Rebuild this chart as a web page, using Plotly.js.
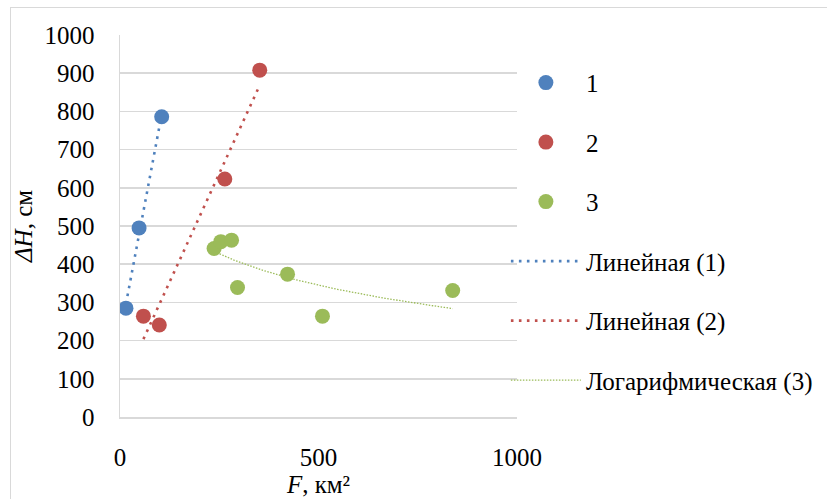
<!DOCTYPE html>
<html>
<head>
<meta charset="utf-8">
<script src="https://cdn.plot.ly/plotly-3.0.1.min.js"></script>
<style>
  html, body { margin: 0; padding: 0; background: #ffffff; }
  #frame { position: absolute; left: 10px; top: 7px; width: 840px; height: 520px;
           border: 1.5px solid #d9d9d9; box-sizing: border-box; pointer-events: none; }
  #chart { position: absolute; left: 0; top: 0; width: 827px; height: 499px; }
  #chart svg text { font-family: "Liberation Serif", "Times New Roman", serif !important; }
</style>
</head>
<body>
<div id="frame"></div>
<div id="chart"></div>
<script>
// Catchment area F (km²) vs. level amplitude ΔH (cm), three groups
const area1 = [15, 48, 105];
const dH1   = [285, 495, 786];
const area2 = [59, 99, 264, 352];
const dH2   = [264, 241, 623, 908];
const area3 = [237, 254, 281, 296, 422, 510, 838];
const dH3   = [441, 459, 463, 339, 374, 264, 331];

const seriesNames = ['1', '2', '3'];
const trendNames = ['Линейная (1)', 'Линейная (2)', 'Логарифмическая (3)'];
const colors = ['#4f81bd', '#c0504d', '#9bbb59'];

// least-squares fit y = a + b * t, where t = f(x)
function fit(xs, ys, f) {
  const t = xs.map(f);
  const n = t.length;
  const mt = t.reduce((s, v) => s + v, 0) / n;
  const my = ys.reduce((s, v) => s + v, 0) / n;
  let sxx = 0, sxy = 0;
  for (let i = 0; i < n; i++) { sxx += (t[i] - mt) ** 2; sxy += (t[i] - mt) * (ys[i] - my); }
  const b = sxy / sxx;
  return { a: my - b * mt, b: b };
}

function trendLine(xs, ys, f, steps) {
  const c = fit(xs, ys, f);
  const lo = Math.min(...xs), hi = Math.max(...xs);
  const tx = [], ty = [];
  for (let i = 0; i <= steps; i++) {
    const x = lo + (hi - lo) * i / steps;
    tx.push(x); ty.push(c.a + c.b * f(x));
  }
  return { x: tx, y: ty };
}

const lin = x => x;
const t1 = trendLine(area1, dH1, lin, 1);
const t2 = trendLine(area2, dH2, lin, 1);
const t3 = trendLine(area3, dH3, Math.log, 60);

const traces = [
  { x: t1.x, y: t1.y, mode: 'lines', name: trendNames[0], legendrank: 4, legendgroup: 'd',
    line: { color: colors[0], width: 2.6, dash: '2.6px,5.4px' } },
  { x: t2.x, y: t2.y, mode: 'lines', name: trendNames[1], legendrank: 5, legendgroup: 'e',
    line: { color: colors[1], width: 2.6, dash: '2.6px,5.4px' } },
  { x: t3.x, y: t3.y, mode: 'lines', name: trendNames[2], legendrank: 6, legendgroup: 'f',
    line: { color: colors[2], width: 1.3, dash: '1.5px,1.5px' } },
  { x: area1, y: dH1, mode: 'markers', name: seriesNames[0], legendrank: 1, legendgroup: 'a',
    marker: { color: colors[0], size: 15 } },
  { x: area2, y: dH2, mode: 'markers', name: seriesNames[1], legendrank: 2, legendgroup: 'b',
    marker: { color: colors[1], size: 15 } },
  { x: area3, y: dH3, mode: 'markers', name: seriesNames[2], legendrank: 3, legendgroup: 'c',
    marker: { color: colors[2], size: 15 } }
];

const serif = 'Liberation Serif';
const mkFont = () => ({ family: serif, size: 25, color: '#000000' });

const layout = {
  width: 827, height: 499,
  margin: { l: 120, r: 310, t: 35, b: 82, autoexpand: false },
  paper_bgcolor: 'rgba(0,0,0,0)',
  plot_bgcolor: 'rgba(0,0,0,0)',
  font: mkFont(),
  showlegend: true,
  legend: {
    x: 0.972, xanchor: 'left', y: 0.935, yanchor: 'top',
    font: mkFont(), tracegroupgap: 24, itemwidth: 70, bgcolor: 'rgba(0,0,0,0)'
  },
  xaxis: {
    range: [0, 1000], dtick: 500, tick0: 0,
    showgrid: false, zeroline: false,
    showline: true, linecolor: '#d9d9d9', linewidth: 1.5,
    ticks: '', ticklabelstandoff: 17, tickfont: mkFont(),
    title: { text: '<i>F</i>, км²', font: mkFont(), standoff: 0 },
    fixedrange: true
  },
  yaxis: {
    range: [0, 1000], dtick: 100, tick0: 0,
    showgrid: true, gridcolor: '#d9d9d9', gridwidth: 1.5, zeroline: false,
    showline: true, linecolor: '#d9d9d9', linewidth: 1.5,
    ticks: '', ticklabelstandoff: 19, tickfont: mkFont(),
    title: { text: '<i>ΔH</i>, см', font: mkFont(), standoff: 5 },
    fixedrange: true
  }
};

Plotly.newPlot('chart', traces, layout, { displayModeBar: false, staticPlot: true });
</script>
</body>
</html>
